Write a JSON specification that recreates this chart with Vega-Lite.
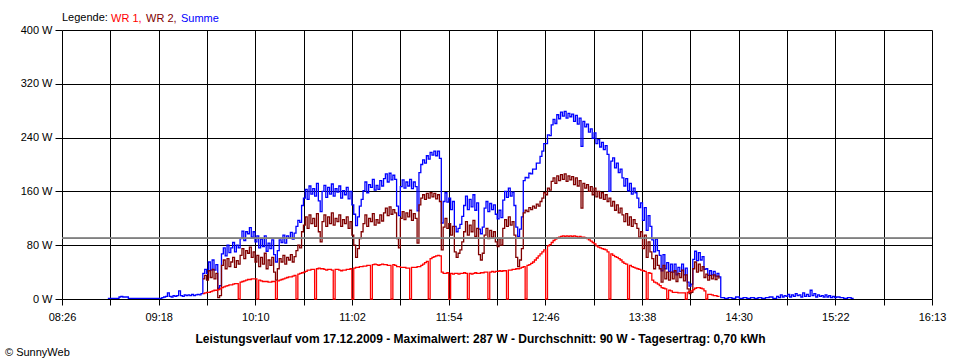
{
"$schema": "https://vega.github.io/schema/vega-lite/v6.json",
"width": 870, "height": 269,
"autosize": {"type": "none"},
"padding": {"left": 62, "top": 30, "right": 28, "bottom": 61},
"background": "white",
"config": {
  "view": {"stroke": null},
  "font": "Liberation Sans",
  "axis": {"gridColor": "black", "gridOpacity": 1, "gridWidth": 1, "tickColor": "black", "domain": false, "labelColor": "black", "labelFont": "Liberation Sans", "labelFontSize": 11, "tickSize": 6}
},
"title": {"text": "© SunnyWeb", "orient": "bottom", "anchor": "start", "frame": "group", "dx": -57, "offset": 3, "fontSize": 11, "fontWeight": "normal", "font": "Liberation Sans", "color": "black"},
"data": {"values": [
{"t":531,"s":1},{"t":534,"s":1},{"t":537,"s":3},{"t":538,"s":4},{"t":539,"s":3},{"t":540,"s":3},{"t":541,"s":3},{"t":542,"s":1},{"t":546,"s":1},{"t":550,"s":1},{"t":554,"s":1},{"t":558,"s":1},
{"t":560,"s":2},{"t":561,"s":3},{"t":562,"s":4},{"t":563,"s":9},{"t":564,"s":4},{"t":565,"s":3},{"t":566,"s":5},{"t":567,"s":4},{"t":568,"s":5},{"t":569,"s":12},{"t":570,"s":5},{"t":571,"s":4},{"t":572,"s":6},{"t":573,"s":5},{"t":574,"s":6},{"t":575,"s":5},{"t":576,"s":7},{"t":577,"s":5},{"t":578,"s":6},{"t":579,"s":7},{"t":580,"s":6},{"t":581,"s":8},
{"t":582,"a":8,"b":30,"s":38},{"t":583,"a":9,"b":35,"s":44},{"t":584,"a":10,"b":28,"s":38},{"t":585,"a":10,"b":42,"s":55},{"t":586,"a":11,"b":32,"s":43},{"t":587,"a":12,"b":44,"s":58},{"t":588,"a":13,"b":30,"s":43},{"t":589,"a":13,"b":38,"s":51},{"t":590,"a":14,"b":2,"s":16},{"t":591,"a":15,"b":5,"s":20},
{"t":592,"a":17,"b":50,"s":67},{"t":593,"a":18,"b":58,"s":76},{"t":594,"a":19,"b":45,"s":64},{"t":595,"a":20,"b":60,"s":80},{"t":596,"a":21,"b":48,"s":69},{"t":597,"a":21,"b":55,"s":76},{"t":598,"a":22,"b":62,"s":84},{"t":599,"a":23,"b":47,"s":70},{"t":600,"a":23,"b":57,"s":80},{"t":601,"a":0,"b":52,"s":76},
{"t":602,"a":25,"b":65,"s":90},{"t":603,"a":26,"b":75,"s":101},{"t":604,"a":27,"b":60,"s":87},{"t":605,"a":28,"b":72,"s":100},{"t":606,"a":29,"b":68,"s":97},{"t":607,"a":29,"b":77,"s":106},{"t":608,"a":30,"b":62,"s":92},{"t":609,"a":30,"b":70,"s":100},{"t":610,"a":30,"b":55,"s":85},{"t":611,"a":0,"b":65,"s":94},
{"t":612,"a":28,"b":48,"s":76},{"t":613,"a":27,"b":62,"s":89},{"t":614,"a":26,"b":52,"s":78},{"t":615,"a":26,"b":68,"s":94},{"t":616,"a":26,"b":45,"s":71},{"t":617,"a":25,"b":58,"s":83},{"t":618,"a":25,"b":50,"s":75},{"t":619,"a":26,"b":62,"s":88},{"t":620,"a":26,"b":40,"s":66},{"t":621,"a":0,"b":28,"s":55},
{"t":622,"a":27,"b":45,"s":72},{"t":623,"a":28,"b":60,"s":88},{"t":624,"a":29,"b":55,"s":84},{"t":625,"a":30,"b":65,"s":95},{"t":626,"a":31,"b":52,"s":83},{"t":627,"a":32,"b":62,"s":94},{"t":628,"a":33,"b":58,"s":91},{"t":629,"a":33,"b":66,"s":99},{"t":630,"a":34,"b":55,"s":89},{"t":631,"a":35,"b":63,"s":98},
{"t":632,"a":0,"b":72,"s":108},{"t":633,"a":37,"b":80,"s":117},{"t":634,"a":38,"b":76,"s":114},{"t":635,"a":39,"b":100,"s":139},{"t":636,"a":40,"b":110,"s":150},{"t":637,"a":41,"b":122,"s":163},{"t":638,"a":43,"b":105,"s":148},{"t":639,"a":43,"b":125,"s":168},{"t":640,"a":44,"b":112,"s":156},{"t":641,"a":44,"b":120,"s":164},
{"t":642,"a":0,"b":108,"s":153},{"t":643,"a":45,"b":127,"s":172},{"t":644,"a":46,"b":100,"s":146},{"t":645,"a":45,"b":85,"s":130},{"t":646,"a":45,"b":115,"s":160},{"t":647,"a":44,"b":125,"s":169},{"t":648,"a":43,"b":108,"s":151},{"t":649,"a":44,"b":122,"s":166},{"t":650,"a":44,"b":112,"s":156},{"t":651,"a":43,"b":128,"s":171},
{"t":652,"a":0,"b":110,"s":153},{"t":653,"a":44,"b":120,"s":164},{"t":654,"a":44,"b":115,"s":159},{"t":655,"a":43,"b":125,"s":168},{"t":656,"a":42,"b":108,"s":150},{"t":657,"a":43,"b":118,"s":161},{"t":658,"a":43,"b":112,"s":155},{"t":659,"a":44,"b":122,"s":166},{"t":660,"a":44,"b":105,"s":149},{"t":661,"a":45,"b":115,"s":160},
{"t":662,"a":0,"b":95,"s":140},{"t":663,"a":46,"b":80,"s":126},{"t":664,"a":47,"b":62,"s":109},{"t":665,"a":47,"b":75,"s":122},{"t":666,"a":48,"b":90,"s":138},{"t":667,"a":48,"b":100,"s":148},{"t":668,"a":49,"b":112,"s":161},{"t":669,"a":49,"b":125,"s":174},{"t":670,"a":50,"b":108,"s":158},{"t":671,"a":50,"b":120,"s":170},
{"t":672,"a":0,"b":115,"s":166},{"t":673,"a":51,"b":127,"s":178},{"t":674,"a":52,"b":110,"s":162},{"t":675,"a":51,"b":118,"s":169},{"t":676,"a":50,"b":113,"s":163},{"t":677,"a":51,"b":125,"s":176},{"t":678,"a":52,"b":116,"s":168},{"t":679,"a":51,"b":128,"s":179},{"t":680,"a":51,"b":135,"s":186},{"t":681,"a":50,"b":124,"s":174},
{"t":682,"a":50,"b":137,"s":187},{"t":683,"a":0,"b":126,"s":177},{"t":684,"a":51,"b":133,"s":184},{"t":685,"a":50,"b":128,"s":178},{"t":686,"a":48,"b":90,"s":138},{"t":687,"a":48,"b":76,"s":124},{"t":688,"a":47,"b":120,"s":167},{"t":689,"a":47,"b":130,"s":177},{"t":690,"a":47,"b":118,"s":165},{"t":691,"a":46,"b":128,"s":174},
{"t":692,"a":46,"b":122,"s":168},{"t":693,"a":0,"b":132,"s":178},{"t":694,"a":47,"b":117,"s":164},{"t":695,"a":47,"b":127,"s":174},{"t":696,"a":47,"b":120,"s":167},{"t":697,"a":48,"b":83,"s":131},{"t":698,"a":48,"b":140,"s":188},{"t":699,"a":50,"b":150,"s":200},{"t":700,"a":52,"b":155,"s":207},{"t":701,"a":54,"b":148,"s":202},
{"t":702,"a":56,"b":157,"s":213},{"t":703,"a":0,"b":150,"s":208},{"t":704,"a":60,"b":158,"s":218},{"t":705,"a":62,"b":152,"s":214},{"t":706,"a":63,"b":157,"s":220},{"t":707,"a":64,"b":149,"s":213},{"t":708,"a":65,"b":155,"s":220},{"t":709,"a":64,"b":145,"s":209},{"t":710,"a":40,"b":73,"s":113},{"t":711,"a":38,"b":107,"s":145},
{"t":712,"a":38,"b":120,"s":158},{"t":713,"a":39,"b":105,"s":144},{"t":714,"a":0,"b":112,"s":150},{"t":715,"a":38,"b":95,"s":133},{"t":716,"a":37,"b":108,"s":145},{"t":717,"a":38,"b":70,"s":108},{"t":718,"a":38,"b":62,"s":100},{"t":719,"a":37,"b":68,"s":105},{"t":720,"a":38,"b":73,"s":111},{"t":721,"a":38,"b":85,"s":123},
{"t":722,"a":39,"b":100,"s":139},{"t":723,"a":38,"b":115,"s":153},{"t":724,"a":0,"b":95,"s":133},{"t":725,"a":38,"b":110,"s":148},{"t":726,"a":37,"b":100,"s":137},{"t":727,"a":38,"b":117,"s":155},{"t":728,"a":39,"b":93,"s":132},{"t":729,"a":38,"b":105,"s":143},{"t":730,"a":38,"b":66,"s":104},{"t":731,"a":39,"b":58,"s":97},
{"t":732,"a":39,"b":68,"s":107},{"t":733,"a":40,"b":95,"s":135},{"t":734,"a":40,"b":105,"s":145},{"t":735,"a":0,"b":90,"s":130},{"t":736,"a":40,"b":102,"s":142},{"t":737,"a":41,"b":92,"s":133},{"t":738,"a":40,"b":100,"s":140},{"t":739,"a":41,"b":85,"s":126},{"t":740,"a":41,"b":78,"s":119},{"t":741,"a":42,"b":90,"s":132},
{"t":742,"a":41,"b":80,"s":121},{"t":743,"a":42,"b":105,"s":147},{"t":744,"a":42,"b":118,"s":160},{"t":745,"a":0,"b":108,"s":151},{"t":746,"a":43,"b":122,"s":165},{"t":747,"a":43,"b":110,"s":153},{"t":748,"a":44,"b":115,"s":159},{"t":749,"a":44,"b":95,"s":139},{"t":750,"a":45,"b":62,"s":107},{"t":751,"a":45,"b":48,"s":93},
{"t":752,"a":46,"b":58,"s":104},{"t":753,"a":47,"b":75,"s":122},{"t":754,"a":48,"b":128,"s":176},{"t":755,"a":0,"b":132,"s":181},{"t":756,"a":50,"b":130,"s":180},{"t":757,"a":51,"b":136,"s":187},{"t":758,"a":53,"b":133,"s":186},{"t":759,"a":55,"b":138,"s":193},{"t":760,"a":58,"b":135,"s":193},{"t":761,"a":61,"b":141,"s":202},
{"t":762,"a":64,"b":138,"s":202},{"t":763,"a":67,"b":145,"s":212},{"t":764,"a":70,"b":150,"s":220},{"t":765,"a":73,"b":158,"s":231},{"t":766,"a":0,"b":155,"s":231},{"t":767,"a":79,"b":165,"s":244},{"t":768,"a":81,"b":162,"s":243},{"t":769,"a":84,"b":175,"s":259},{"t":770,"a":87,"b":180,"s":267},{"t":771,"a":89,"b":172,"s":261},
{"t":772,"a":91,"b":183,"s":274},{"t":773,"a":92,"b":176,"s":268},{"t":774,"a":93,"b":185,"s":278},{"t":775,"a":94,"b":178,"s":272},{"t":776,"a":93,"b":186,"s":279},{"t":777,"a":94,"b":175,"s":269},{"t":778,"a":93,"b":183,"s":276},{"t":779,"a":94,"b":177,"s":271},{"t":780,"a":93,"b":182,"s":275},{"t":781,"a":94,"b":170,"s":264},
{"t":782,"a":93,"b":180,"s":273},{"t":783,"a":92,"b":168,"s":260},{"t":784,"a":93,"b":176,"s":269},{"t":785,"a":92,"b":135,"s":227},{"t":786,"a":92,"b":172,"s":264},{"t":787,"a":91,"b":165,"s":256},{"t":788,"a":90,"b":170,"s":260},{"t":789,"a":88,"b":160,"s":248},{"t":790,"a":86,"b":167,"s":253},{"t":791,"a":84,"b":155,"s":239},
{"t":792,"a":82,"b":165,"s":247},{"t":793,"a":79,"b":152,"s":231},{"t":794,"a":77,"b":160,"s":237},{"t":795,"a":76,"b":150,"s":226},{"t":796,"a":75,"b":158,"s":233},{"t":797,"a":74,"b":148,"s":222},{"t":798,"a":73,"b":155,"s":228},{"t":799,"a":70,"b":145,"s":215},{"t":800,"a":0,"b":150,"s":160},{"t":801,"a":67,"b":138,"s":205},
{"t":802,"a":65,"b":145,"s":210},{"t":803,"a":63,"b":132,"s":195},{"t":804,"a":62,"b":140,"s":202},{"t":805,"a":60,"b":128,"s":188},{"t":806,"a":58,"b":135,"s":193},{"t":807,"a":55,"b":125,"s":180},{"t":808,"a":53,"b":115,"s":168},{"t":809,"a":52,"b":127,"s":179},{"t":810,"a":0,"b":110,"s":161},{"t":811,"a":50,"b":122,"s":172},
{"t":812,"a":48,"b":108,"s":156},{"t":813,"a":47,"b":118,"s":165},{"t":814,"a":46,"b":112,"s":158},{"t":815,"a":45,"b":105,"s":150},{"t":816,"a":44,"b":92,"s":136},{"t":817,"a":43,"b":100,"s":143},{"t":818,"a":42,"b":75,"s":117},{"t":819,"a":41,"b":95,"s":136},{"t":820,"a":0,"b":62,"s":102},{"t":821,"a":39,"b":85,"s":124},
{"t":822,"a":38,"b":70,"s":108},{"t":823,"a":28,"b":60,"s":88},{"t":824,"a":25,"b":45,"s":70},{"t":825,"a":24,"b":65,"s":89},{"t":826,"a":22,"b":50,"s":72},{"t":827,"a":20,"b":45,"s":65},{"t":828,"a":17,"b":25,"s":42},{"t":829,"a":16,"b":50,"s":66},{"t":830,"a":15,"b":30,"s":45},{"t":831,"a":0,"b":40,"s":54},
{"t":832,"a":13,"b":28,"s":41},{"t":833,"a":12,"b":40,"s":52},{"t":834,"a":10,"b":30,"s":40},{"t":835,"a":10,"b":42,"s":52},{"t":836,"a":10,"b":26,"s":36},{"t":837,"a":9,"b":38,"s":47},{"t":838,"a":9,"b":32,"s":41},{"t":839,"a":9,"b":43,"s":52},{"t":840,"a":9,"b":27,"s":36},{"t":841,"a":0,"b":36,"s":46},
{"t":842,"a":10,"b":15,"s":25},{"t":843,"a":11,"b":8,"s":19},{"t":844,"a":12,"b":10,"s":22},{"t":845,"a":14,"b":45,"s":59},{"t":846,"a":16,"b":55,"s":71},{"t":847,"a":17,"b":40,"s":57},{"t":848,"a":17,"b":52,"s":69},{"t":849,"a":16,"b":42,"s":58},{"t":850,"a":15,"b":48,"s":63},{"t":851,"a":12,"b":32,"s":44},
{"t":852,"a":0,"b":37,"s":45},{"t":853,"a":7,"b":28,"s":35},{"t":854,"a":7,"b":35,"s":42},{"t":855,"a":6,"b":30,"s":36},{"t":856,"a":5,"b":36,"s":41},{"t":857,"a":5,"b":29,"s":34},{"t":858,"a":4,"b":34,"s":38},{"t":859,"a":3,"b":30,"s":33},
{"t":860,"s":2},{"t":862,"s":1},{"t":864,"s":2},{"t":866,"s":1},{"t":868,"s":3},{"t":870,"s":1},{"t":872,"s":2},{"t":874,"s":1},{"t":876,"s":2},{"t":878,"s":1},{"t":880,"s":2},{"t":882,"s":1},{"t":884,"s":2},{"t":886,"s":3},{"t":888,"s":1},{"t":890,"s":4},
{"t":891,"s":2},{"t":892,"s":6},{"t":893,"s":3},{"t":894,"s":5},{"t":895,"s":4},{"t":896,"s":7},{"t":897,"s":3},{"t":898,"s":6},{"t":899,"s":4},{"t":900,"s":8},{"t":901,"s":5},{"t":902,"s":6},{"t":903,"s":3},{"t":904,"s":9},{"t":905,"s":4},{"t":906,"s":7},{"t":907,"s":4},{"t":908,"s":13},{"t":909,"s":5},{"t":910,"s":8},
{"t":911,"s":3},{"t":912,"s":6},{"t":913,"s":4},{"t":914,"s":5},{"t":915,"s":3},{"t":916,"s":6},{"t":917,"s":3},{"t":918,"s":5},{"t":919,"s":2},{"t":920,"s":4},{"t":921,"s":2},{"t":922,"s":3},{"t":924,"s":2},{"t":926,"s":1},{"t":928,"s":2},{"t":930,"s":1},{"t":931,"s":0}
]},
"layer": [
  {"mark": {"type": "line", "interpolate": "step-after", "strokeWidth": 1.3},
   "encoding": {
     "x": {"field": "t", "type": "quantitative", "scale": {"domain": [506.4, 973.392], "nice": false, "zero": false},
       "axis": {"values": [506.4,532.344,558.288,584.232,610.176,636.12,662.064,688.008,713.952,739.896,765.84,791.784,817.728,843.672,869.616,895.56,921.504,947.448,973.392],
         "labelExpr": "round((datum.value-506.4)/25.944)%2==0 ? timeFormat(datetime(2009,11,17,0,round(datum.value)),'%H:%M') : ''",
         "labelFlush": false, "labelOverlap": false, "grid": true, "tickSize": 6, "labelPadding": 6,
         "title": "Leistungsverlauf vom 17.12.2009 - Maximalwert: 287 W - Durchschnitt: 90 W - Tagesertrag: 0,70 kWh",
         "titleFontWeight": "bold", "titleFontSize": 12, "titleFont": "Liberation Sans", "titleColor": "black", "titlePadding": 11, "titleX": 418}},
     "y": {"field": "s", "type": "quantitative", "scale": {"domain": [0, 400], "nice": false},
       "axis": {"values": [0,80,160,240,320,400], "labelExpr": "datum.value + ' W'", "title": null, "grid": true, "tickSize": 7, "labelPadding": 3}},
     "color": {"datum": "Summe", "scale": {"domain": ["WR 1", "WR 2", "Summe"], "range": ["#ff0000", "#800000", "#0000ff"]},
       "legend": {"orient": "top", "direction": "horizontal", "title": "Legende:", "titleOrient": "left", "titleFontWeight": "normal", "titleFontSize": 11, "titleFont": "Liberation Sans", "titleColor": "black", "titlePadding": 3,
         "labelFontSize": 11, "labelFont": "Liberation Sans", "symbolSize": 0, "symbolStrokeWidth": 0, "symbolOpacity": 0, "labelOffset": -11, "columnPadding": 4, "offset": 6, "padding": 0,
         "labelExpr": "datum.label == 'Summe' ? 'Summe' : datum.label + ','",
         "encode": {"labels": {"update": {"fill": {"scale": "color", "field": "value"}}}, "symbols": {"update": {"size": {"value": 0}, "opacity": {"value": 0}, "shape": {"value": "circle"}}}}}}
   }},
  {"mark": {"type": "line", "interpolate": "step-after", "strokeWidth": 1.3},
   "encoding": {
     "x": {"field": "t", "type": "quantitative"},
     "y": {"field": "b", "type": "quantitative", "title": null},
     "color": {"datum": "WR 2"}
   }},
  {"mark": {"type": "line", "interpolate": "step-after", "strokeWidth": 1.3},
   "encoding": {
     "x": {"field": "t", "type": "quantitative"},
     "y": {"field": "a", "type": "quantitative", "title": null},
     "color": {"datum": "WR 1"}
   }},
  {"mark": {"type": "rule", "color": "#808080", "strokeWidth": 1},
   "encoding": {"y": {"datum": 90, "type": "quantitative"}}}
]
}
